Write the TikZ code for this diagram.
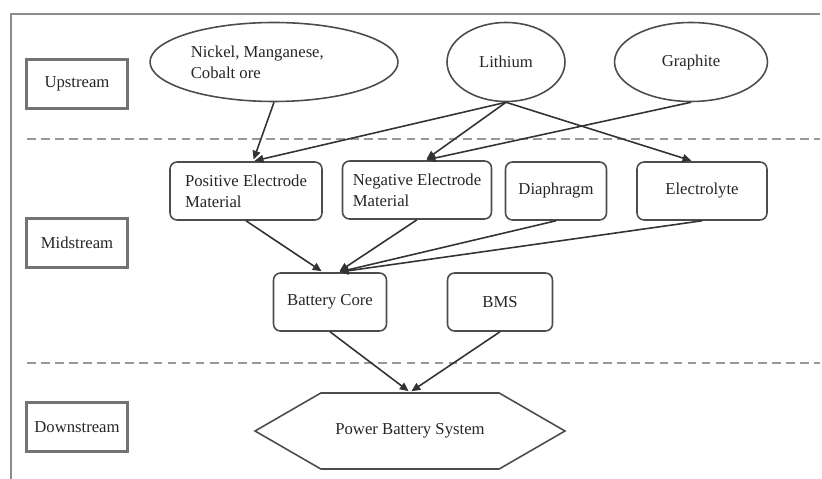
\documentclass[tikz,border=0pt]{standalone}
\usepackage{fontspec}
\setmainfont{Liberation Serif}
\usetikzlibrary{arrows.meta, positioning, shapes.geometric, shapes.symbols}

\begin{document}
\begin{tikzpicture}[x=0.02cm, y=-0.02cm, shorten >=1pt, >={Triangle[length=5pt,width=4.5pt]},
    font=\fontsize{9.5}{12}\selectfont, text=black!85]
    \tikzstyle{stage}=[draw=black!55, line width=1.2pt, minimum width=2.02cm, minimum height=0.98cm]
    \tikzstyle{source}=[ellipse, draw=black!70, line width=0.9pt, minimum height=1.58cm, inner sep=1pt]
    \tikzstyle{part}=[rectangle, rounded corners=4pt, draw=black!70, line width=0.9pt, minimum height=1.16cm, align=left]
    \tikzstyle{product}=[signal, signal to=west and east, signal pointer angle=60, draw=black!70,
        line width=0.9pt, minimum width=6.2cm, minimum height=1.52cm]
    \tikzstyle{flow}=[->, draw=black!80, line width=0.9pt]
    \tikzstyle{divider}=[draw=black!40, line width=1.5pt, dash pattern=on 5pt off 3pt]

    \useasboundingbox (0,0) rectangle (822,479);

    % Frame and stage dividers
    \draw[black!45, line width=1.5pt] (11,479) -- (11,14) -- (822,14);
    \draw[divider] (27,139) -- (822,139);
    \draw[divider] (27,363) -- (822,363);

    % Stage labels
    \node[stage] (up) at (77,84) {Upstream};
    \node[stage] (mid) at (77,243) {Midstream};
    \node[stage] (down) at (77,427) {Downstream};

    % Draw the raw materials
    \node[source, minimum width=4.96cm, align=left] (nmc) at (274,62) {Nickel, Manganese,\hspace*{2em}\\Cobalt ore};
    \node[source, minimum width=2.36cm] (li) at (506,62) {Lithium};
    \node[source, minimum width=3.06cm] (gr) at (691,62) {Graphite};

    % Draw the battery parts
    \node[part, minimum width=3.04cm] (pos) at (246,191) {Positive Electrode\\Material};
    \node[part, minimum width=2.98cm] (neg) at (417,190) {Negative Electrode\\Material};
    \node[part, minimum width=2.02cm] (dia) at (556,191) {Diaphragm};
    \node[part, minimum width=2.6cm] (ely) at (702,191) {Electrolyte};
    \node[part, minimum width=2.26cm] (core) at (330,302) {Battery Core};
    \node[part, minimum width=2.1cm] (bms) at (500,302) {BMS};

    % Draw the end product
    \node[product] (pbs) at (410,431) {Power Battery System};

    % Connect raw materials with the parts
    \draw[flow] (nmc.south) -- ([xshift=0.14cm]pos.north);
    \draw[flow] (li.south) -- ([xshift=0.14cm]pos.north);
    \draw[flow] (li.south) -- ([xshift=0.16cm]neg.north);
    \draw[flow] (li.south) -- ([xshift=-0.18cm]ely.north);
    \draw[flow] (gr.south) -- ([xshift=0.16cm]neg.north);

    % Connect the parts with the battery core
    \draw[flow] (pos.south) -- ([xshift=-0.14cm]core.north);
    \foreach \source in {neg,dia,ely}
        \draw[flow] (\source.south) -- ([xshift=0.16cm]core.north);

    % Connect core and BMS with the system
    \foreach \source in {core,bms}
        \draw[flow] (\source.south) -- (pbs.north);
\end{tikzpicture}
\end{document}
